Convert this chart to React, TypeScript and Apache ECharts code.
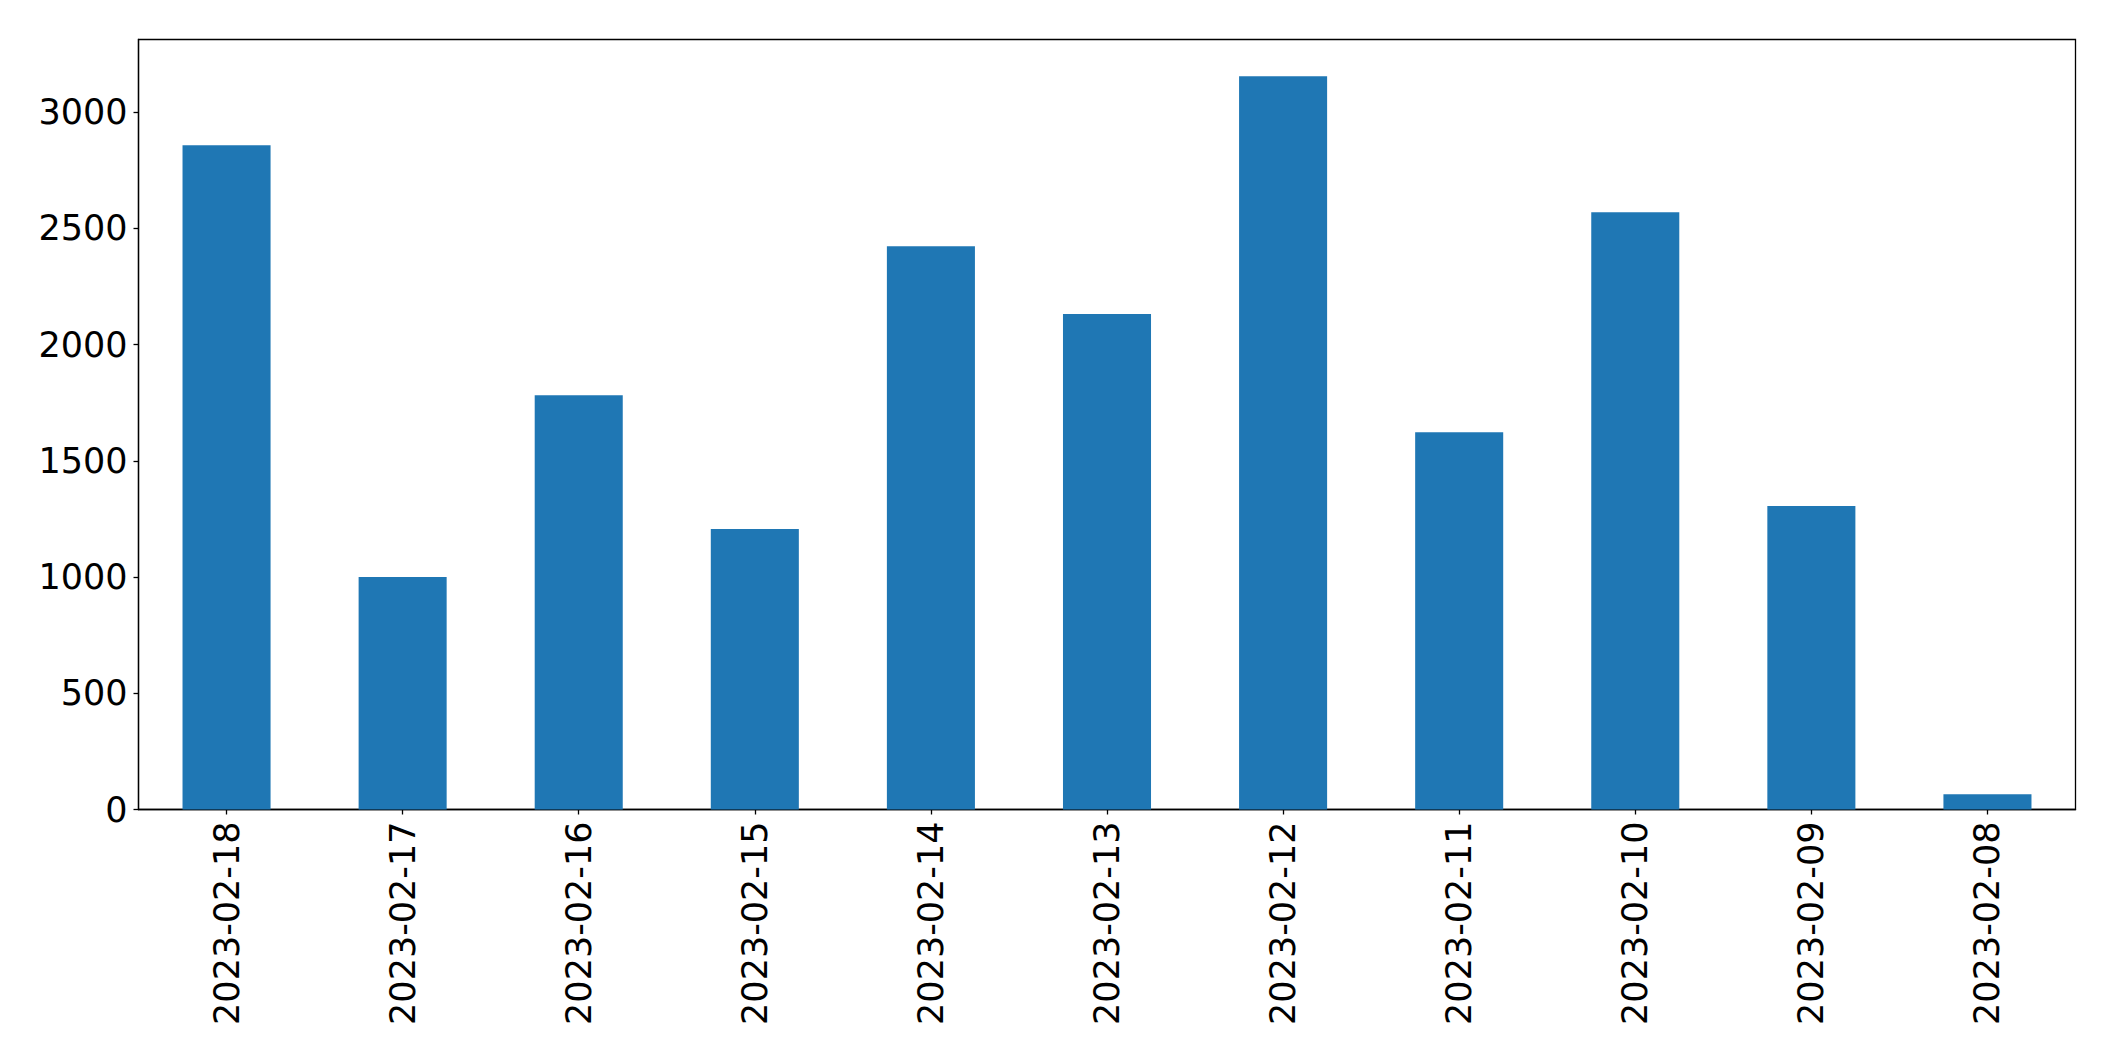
import React, { useEffect, useRef } from "react";
import * as echarts from "echarts";

const categories = [
  "2023-02-18",
  "2023-02-17",
  "2023-02-16",
  "2023-02-15",
  "2023-02-14",
  "2023-02-13",
  "2023-02-12",
  "2023-02-11",
  "2023-02-10",
  "2023-02-09",
  "2023-02-08",
];
const values = [2857, 1000, 1782, 1206, 2423, 2131, 3154, 1623, 2569, 1305, 66];
const yMin = 0;
const yMax = 3312;
const yInterval = 500;

export default function App() {
  const ref = useRef<HTMLDivElement>(null);
  useEffect(() => {
    if (!ref.current) return;
    const chart = echarts.init(ref.current, undefined, { renderer: "svg" });
    const font = "DejaVu Sans";
    chart.setOption({
      animation: false,
      backgroundColor: "#ffffff",
      grid: {
        left: 138.5,
        right: 39.5,
        top: 39.5,
        bottom: 251.5,
        show: true,
        borderColor: "#000000",
        borderWidth: 1.3,
        backgroundColor: "transparent",
      },
      xAxis: {
        type: "category",
        data: categories,
        boundaryGap: true,
        axisLine: { show: true, lineStyle: { color: "#000000", width: 1.3 } },
        axisTick: {
          show: true,
          alignWithLabel: true,
          length: 5,
          lineStyle: { color: "#000000", width: 1.3 },
        },
        axisLabel: {
          rotate: 90,
          interval: 0,
          margin: 12,
          color: "#000000",
          fontFamily: font,
          fontSize: 35,
        },
        splitLine: { show: false },
      },
      yAxis: {
        type: "value",
        min: yMin,
        max: yMax,
        interval: yInterval,
        axisLine: { show: true, lineStyle: { color: "#000000", width: 1.3 } },
        axisTick: {
          show: true,
          length: 5,
          lineStyle: { color: "#000000", width: 1.3 },
        },
        axisLabel: {
          showMaxLabel: false,
          margin: 11,
          color: "#000000",
          fontFamily: font,
          fontSize: 35,
          formatter: (v: number) => String(v),
        },
        splitLine: { show: false },
      },
      series: [
        {
          type: "bar",
          data: values,
          barWidth: "50%",
          itemStyle: { color: "#1f77b4" },
        },
      ],
    });
    return () => chart.dispose();
  }, []);
  return (
    <div
      ref={ref}
      style={{ position: "fixed", left: 0, top: 0, width: 2115, height: 1061 }}
    />
  );
}
